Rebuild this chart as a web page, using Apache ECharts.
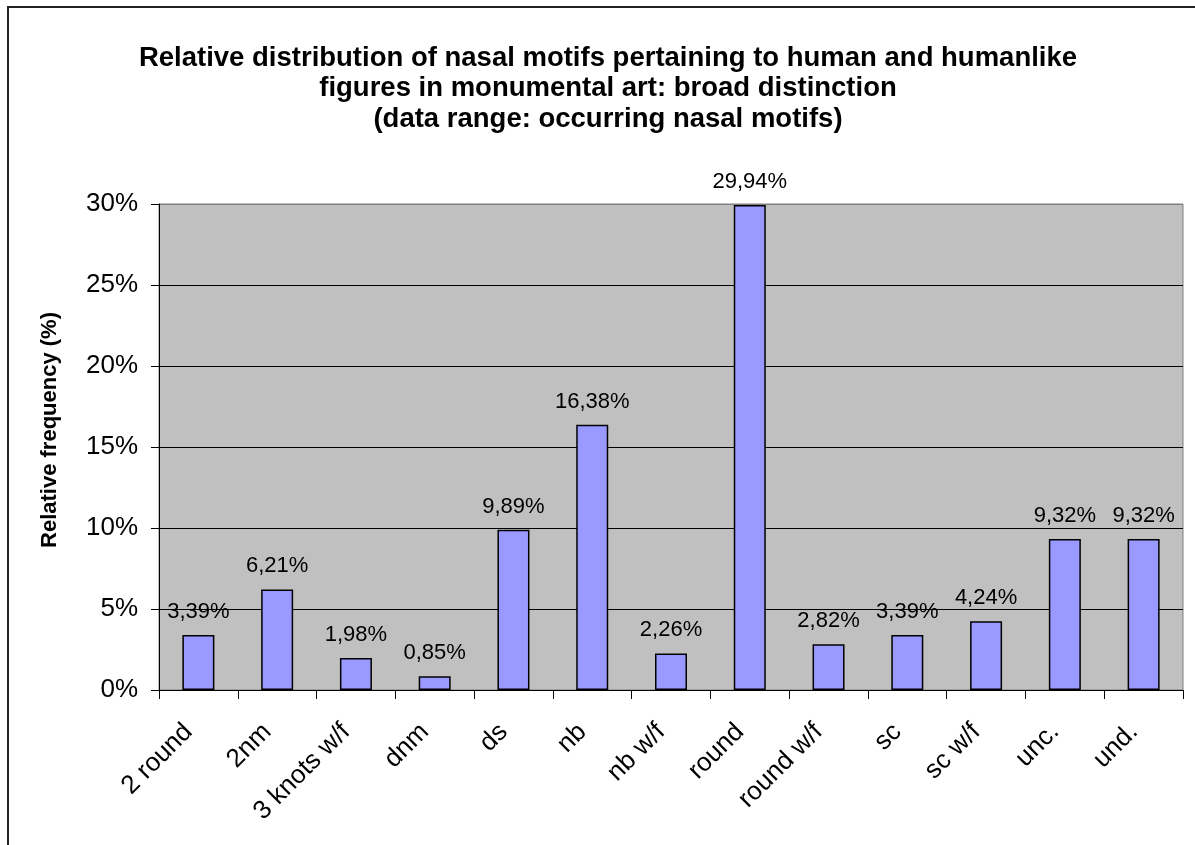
<!DOCTYPE html>
<html>
<head>
<meta charset="utf-8">
<script src="https://cdn.jsdelivr.net/npm/echarts@6/dist/echarts.min.js"></script>
<style>html,body{margin:0;padding:0;background:#fff;}#c{width:1195px;height:845px;}</style>
</head>
<body>
<div id="c"></div>
<script>
const categories = ['2 round','2nm','3 knots w/f','dnm','ds','nb','nb w/f','round','round w/f','sc','sc w/f','unc.','und.'];
const values = [3.39, 6.21, 1.98, 0.85, 9.89, 16.38, 2.26, 29.94, 2.82, 3.39, 4.24, 9.32, 9.32];
const titleLines = ['Relative distribution of nasal motifs pertaining to human and humanlike','figures in monumental art: broad distinction','(data range: occurring nasal motifs)'];
const yAxisTitle = 'Relative frequency (%)';

const FONT = '"Liberation Sans", Arial, sans-serif';
const chart = echarts.init(document.getElementById('c'), null, {renderer: 'canvas'});
chart.setOption({
  backgroundColor: '#fff',
  animation: false,
  title: {
    text: titleLines.join('\n'),
    left: 603, top: 38, textAlign: 'center',
    textStyle: {fontFamily: FONT, fontSize: 27.5, fontWeight: 'bold', color: '#000', lineHeight: 30.5, align: 'center'}
  },
  graphic: [
    {type: 'rect', shape: {x: 8, y: 7, width: 1400, height: 1000}, style: {fill: 'none', stroke: '#222', lineWidth: 2}, silent: true, z: 100},
    {type: 'text', x: 50, y: 430, rotation: Math.PI / 2, style: {text: yAxisTitle, font: 'bold 22px ' + FONT, fill: '#000', textAlign: 'center', textVerticalAlign: 'middle'}}
  ],
  grid: {left: 159, top: 204, right: 12, bottom: 155, show: true, backgroundColor: '#c0c0c0', borderColor: '#808080', borderWidth: 1},
  xAxis: {
    type: 'category', data: categories,
    axisLine: {show: true, lineStyle: {color: '#000', width: 1}},
    axisTick: {show: true, inside: false, length: 9, alignWithLabel: false, lineStyle: {color: '#000'}},
    axisLabel: {rotate: 45, interval: 0, margin: 28, padding: [0, 14, 0, 0], fontFamily: FONT, fontSize: 26, color: '#000'},
    splitLine: {show: false}
  },
  yAxis: {
    type: 'value', min: 0, max: 30, interval: 5,
    axisLine: {show: true, lineStyle: {color: '#000', width: 1}},
    axisTick: {show: true, inside: false, length: 8, lineStyle: {color: '#000'}},
    axisLabel: {formatter: '{value}%', margin: 21, fontFamily: FONT, fontSize: 26, color: '#000'},
    splitLine: {show: true, lineStyle: {color: ['#000','#000','#000','#000','#000','#000','#808080'], width: 1}}
  },
  series: [{
    type: 'bar', data: values, barWidth: 32,
    itemStyle: {color: '#9999ff', borderColor: '#000', borderWidth: 1.5},
    label: {show: true, position: 'top', distance: 12, fontFamily: FONT, fontSize: 22, color: '#000',
      formatter: p => p.value.toFixed(2).replace('.', ',') + '%'}
  }]
});
</script>
</body>
</html>
